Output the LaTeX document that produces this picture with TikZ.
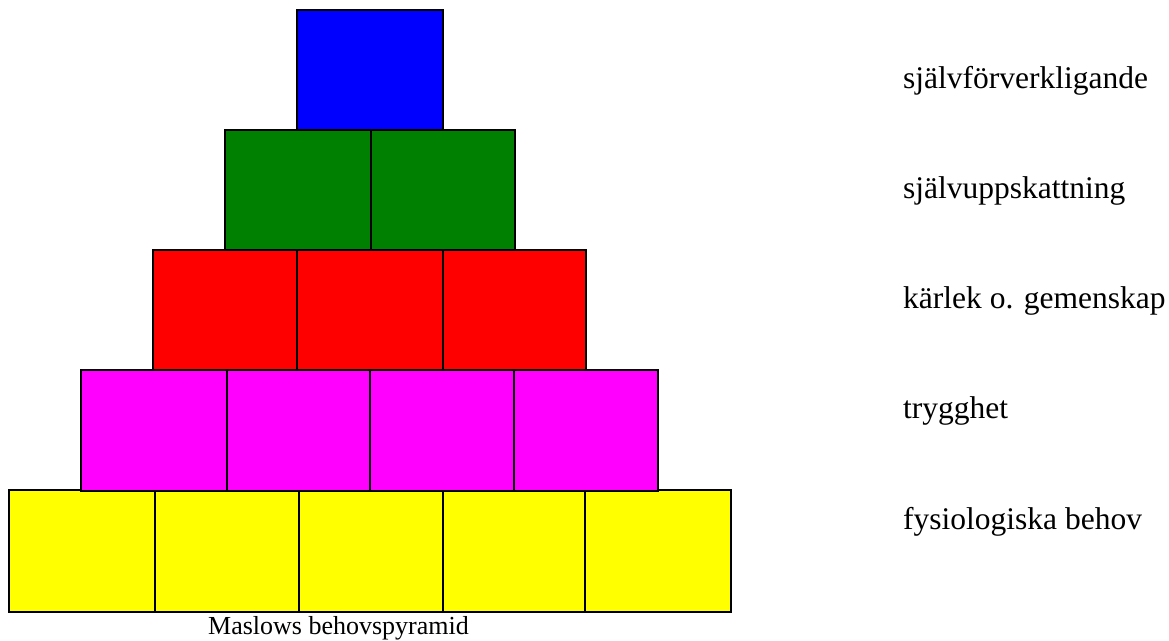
\documentclass[tikz,border=0pt]{standalone}
\usepackage{fontspec}
\setmainfont{Liberation Serif}
\begin{document}
\begin{tikzpicture}[x=1pt,y=-1pt,
  box/.style={draw=black,line width=1.4pt,anchor=north west,inner sep=0pt,outer sep=0pt},
  lbl/.style={anchor=base west,inner sep=0pt,font=\fontsize{31.5}{36}\selectfont},
  captxt/.style={anchor=base west,inner sep=0pt,font=\fontsize{26}{30}\selectfont}]
\useasboundingbox (0,0) rectangle (1169,640);
\definecolor{cblue}{RGB}{0,0,255}
\definecolor{cgreen}{RGB}{0,128,0}
\definecolor{cred}{RGB}{255,0,0}
\definecolor{cmag}{RGB}{255,0,255}
\definecolor{cyel}{RGB}{255,255,0}
% yellow row
\node[box,fill=cyel,minimum width=146pt,minimum height=122pt] (y1) at (9,490) {};
\node[box,fill=cyel,minimum width=144pt,minimum height=122pt] (y2) at (155,490) {};
\node[box,fill=cyel,minimum width=144pt,minimum height=122pt] (y3) at (299,490) {};
\node[box,fill=cyel,minimum width=142pt,minimum height=122pt] (y4) at (443,490) {};
\node[box,fill=cyel,minimum width=146pt,minimum height=122pt] (y5) at (585,490) {};
% magenta row
\node[box,fill=cmag,minimum width=146pt,minimum height=121pt] (m1) at (81,370) {};
\node[box,fill=cmag,minimum width=143pt,minimum height=121pt] (m2) at (227,370) {};
\node[box,fill=cmag,minimum width=144pt,minimum height=121pt] (m3) at (370,370) {};
\node[box,fill=cmag,minimum width=144pt,minimum height=121pt] (m4) at (514,370) {};
% red row
\node[box,fill=cred,minimum width=144pt,minimum height=120pt] (r1) at (153,250) {};
\node[box,fill=cred,minimum width=146pt,minimum height=120pt] (r2) at (297,250) {};
\node[box,fill=cred,minimum width=143pt,minimum height=120pt] (r3) at (443,250) {};
% green row
\node[box,fill=cgreen,minimum width=146pt,minimum height=120pt] (g1) at (225,130) {};
\node[box,fill=cgreen,minimum width=144pt,minimum height=120pt] (g2) at (371,130) {};
% blue
\node[box,fill=cblue,minimum width=146pt,minimum height=120pt] (b1) at (297,10) {};
% labels
\node[lbl] (l1) at (903,88) {självförverkligande};
\node[lbl] (l2) at (903,198) {självuppskattning};
\node[lbl] (l3) at (903,308) {kärlek o. gemenskap};
\node[lbl] (l4) at (903,418) {trygghet};
\node[lbl] (l5) at (903,529) {fysiologiska behov};
\node[captxt] (c) at (208,634) {Maslows behovspyramid};
\end{tikzpicture}
\end{document}
